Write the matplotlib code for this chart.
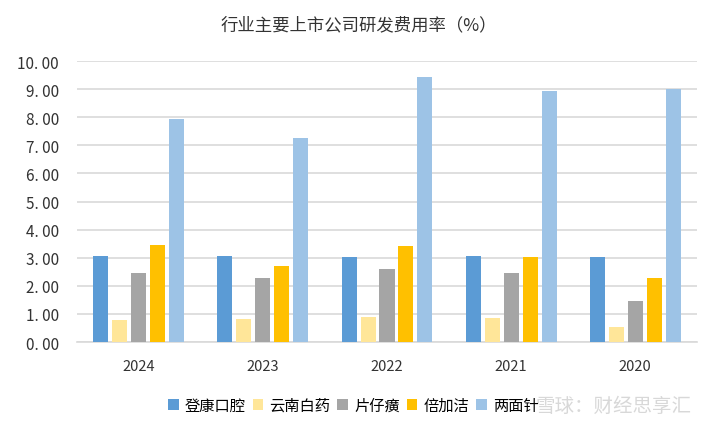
import numpy as np
import matplotlib.pyplot as plt

plt.rcParams['font.family'] = ['Noto Sans CJK SC', 'DejaVu Sans']

# 数据
years = ['2024', '2023', '2022', '2021', '2020']
companies = ['登康口腔', '云南白药', '片仔癀', '倍加洁', '两面针']
dengkang = [3.05, 3.07, 3.03, 3.06, 3.03]
yunnan = [0.79, 0.82, 0.90, 0.86, 0.52]
pianzaihuang = [2.46, 2.29, 2.61, 2.46, 1.47]
beijiajie = [3.46, 2.72, 3.43, 3.04, 2.29]
liangmianzhen = [7.95, 7.26, 9.43, 8.93, 9.00]

series = [dengkang, yunnan, pianzaihuang, beijiajie, liangmianzhen]
colors = ['#5B9BD5', '#FFE699', '#A5A5A5', '#FFC000', '#9DC3E6']

fig = plt.figure(figsize=(7.18, 4.31), dpi=100)
ax = fig.add_axes([0.107, 0.204, 0.864, 0.652])

x = np.arange(len(years))
width = 0.121
pitch = 0.153
for i, (vals, name, c) in enumerate(zip(series, companies, colors)):
    ax.bar(x + (i - 2) * pitch, vals, width, color=c, label=name, zorder=3)

ax.set_xlim(-0.5, len(years) - 0.5)
ax.set_ylim(0, 10)
ax.set_yticks(np.arange(0, 11, 1))
ax.set_yticklabels([f'{v:.2f}'.replace('.', '. ') for v in np.arange(0, 11, 1)], fontsize=11, color='#333333')
ax.set_xticks(x)
ax.set_xticklabels(years, fontsize=10.5, color='#333333')
ax.tick_params(length=0)
ax.tick_params(axis='x', pad=12)
ax.tick_params(axis='y', pad=13)
ax.grid(axis='y', color='#D9D9D9', linewidth=1.2, zorder=0)
for s in ['top', 'right', 'left']:
    ax.spines[s].set_visible(False)
ax.spines['bottom'].set_color('#D9D9D9')
ax.spines['bottom'].set_linewidth(1.2)

fig.text(0.5, 0.942, '行业主要上市公司研发费用率（%）', ha='center', va='center', fontsize=12.5, color='#333333')

fig.legend(loc='center', bbox_to_anchor=(0.492, 0.058), ncol=5, frameon=False, fontsize=11,
           handlelength=0.7, handleheight=0.7, handletextpad=0.4, columnspacing=0.45)

# 水印
fig.text(0.855, 0.056, '雪球：财经思享汇', ha='center', va='center', fontsize=14, color='#C8C8C8', alpha=0.7)

plt.savefig('out.png', dpi=100)
